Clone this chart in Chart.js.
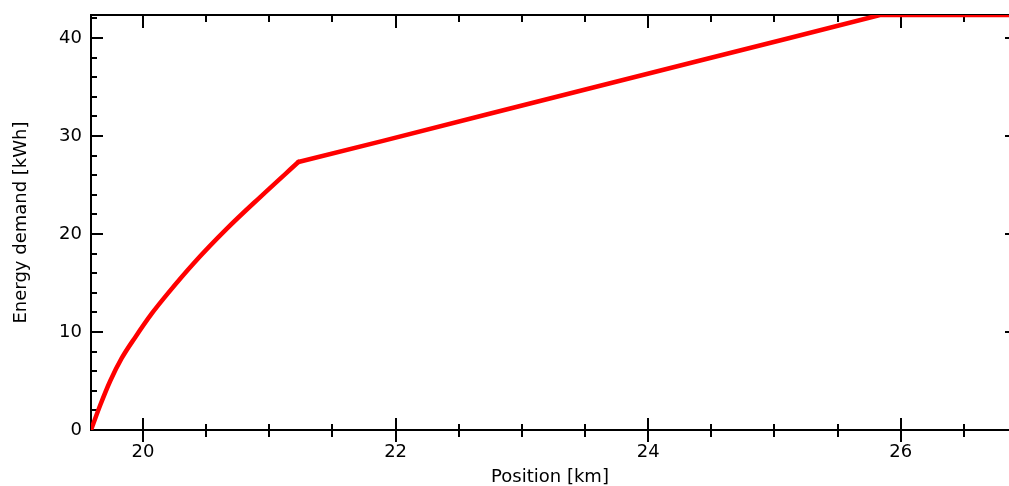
<!DOCTYPE html>
<html>
<head>
<meta charset="utf-8">
<script src="https://cdn.jsdelivr.net/npm/chart.js@4/dist/chart.umd.min.js"></script>
<style>
  html, body { margin: 0; padding: 0; background: #ffffff; }
  #c { display: block; }
</style>
</head>
<body>
<canvas id="c" width="1009" height="486"></canvas>
<script>
// ---- data ----
const positionKm = [19.588, 19.66, 19.74, 19.83, 19.94, 20.07, 20.20, 20.40, 20.66, 20.93, 21.23, 21.90, 22.72, 23.565, 24.38, 25.12, 25.835, 26.857];
const energyKWh  = [0, 2.5, 5.0, 7.3, 9.5, 11.9, 14.0, 17.0, 20.5, 23.8, 27.35, 29.5, 32.2, 34.95, 37.6, 40.0, 42.35, 42.35];
const kinkIndex = 10; // smooth rise up to here, nearly straight afterwards

const xMajorTicks = [20, 22, 24, 26];
const xMinorTicks = [20.5, 21, 21.5, 22.5, 23, 23.5, 24.5, 25, 25.5, 26.5];
const yMajorTicks = [0, 10, 20, 30, 40];
const yMinorTicks = [2, 4, 6, 8, 12, 14, 16, 18, 22, 24, 26, 28, 32, 34, 36, 38, 42];

const xRange = [19.588, 26.857];
const yRange = [0, 42.35];

const xTitle = 'Position [km]';
const yTitle = 'Energy demand [kWh]';

const points = positionKm.map((x, i) => ({ x: x, y: energyKWh[i] }));
const curvePoints = points.slice(0, kinkIndex + 1);
const straightPoints = points.slice(kinkIndex);

const FONT = 'DejaVu Sans';

const axesFrame = {
  id: 'axesFrame',
  beforeDatasetsDraw(chart) {
    const { ctx, chartArea: a, scales: { x, y } } = chart;
    ctx.save();
    ctx.strokeStyle = '#000';
    ctx.lineWidth = 2;
    ctx.lineCap = 'butt';
    const seg = (x1, y1, x2, y2) => { ctx.beginPath(); ctx.moveTo(x1, y1); ctx.lineTo(x2, y2); ctx.stroke(); };
    seg(a.left, a.top - 1, a.left, a.bottom + 1);
    seg(a.left - 1, a.bottom, a.right, a.bottom);
    seg(a.left - 1, a.top, a.right, a.top);
    xMajorTicks.forEach(v => {
      const px = Math.round(x.getPixelForValue(v));
      seg(px, a.bottom - 12, px, a.bottom + 12);
      seg(px, a.top, px, a.top + 13);
    });
    xMinorTicks.forEach(v => {
      const px = Math.round(x.getPixelForValue(v));
      seg(px, a.bottom - 6, px, a.bottom + 7);
      seg(px, a.top, px, a.top + 7);
    });
    yMajorTicks.forEach(v => {
      const py = Math.round(y.getPixelForValue(v));
      seg(a.left, py, a.left + 12, py);
      seg(a.right - 4, py, a.right, py);
    });
    yMinorTicks.forEach(v => {
      const py = Math.round(y.getPixelForValue(v));
      seg(a.left, py, a.left + 6, py);
    });
    ctx.restore();
  }
};

const lineStyle = {
  borderColor: '#ff0000',
  borderWidth: 4.5,
  pointRadius: 0,
  fill: false,
  borderJoinStyle: 'round',
  borderCapStyle: 'round'
};

new Chart(document.getElementById('c'), {
  type: 'line',
  data: {
    datasets: [
      Object.assign({ data: curvePoints, cubicInterpolationMode: 'monotone' }, lineStyle),
      Object.assign({ data: straightPoints, tension: 0 }, lineStyle)
    ]
  },
  options: {
    responsive: false,
    animation: false,
    layout: { padding: { top: 15, right: 0, bottom: 0, left: 0 } },
    plugins: { legend: { display: false }, tooltip: { enabled: false } },
    scales: {
      x: {
        type: 'linear',
        min: xRange[0],
        max: xRange[1],
        afterBuildTicks: s => { s.ticks = xMajorTicks.map(v => ({ value: v })); },
        afterFit: s => { s.height = 56; s.paddingLeft = 0; s.paddingRight = 0; },
        grid: { display: false, drawTicks: false },
        border: { display: false },
        ticks: {
          padding: 12,
          maxRotation: 0,
          autoSkip: false,
          color: '#000',
          font: { family: FONT, size: 18 },
          callback: v => String(v)
        },
        title: {
          display: true,
          text: xTitle,
          color: '#000',
          font: { family: FONT, size: 18, lineHeight: 1 },
          padding: { top: 0, bottom: 0 }
        }
      },
      y: {
        type: 'linear',
        min: yRange[0],
        max: yRange[1],
        afterBuildTicks: s => { s.ticks = yMajorTicks.map(v => ({ value: v })); },
        afterFit: s => { s.width = 91; s.paddingTop = 0; s.paddingBottom = 0; },
        grid: { display: false, drawTicks: false },
        border: { display: false },
        ticks: {
          padding: 9,
          autoSkip: false,
          color: '#000',
          font: { family: FONT, size: 18 },
          callback: v => String(v)
        },
        title: {
          display: true,
          text: yTitle,
          color: '#000',
          font: { family: FONT, size: 18, lineHeight: 1 },
          padding: { top: 12, bottom: 0 }
        }
      }
    }
  },
  plugins: [axesFrame]
});
</script>
</body>
</html>
